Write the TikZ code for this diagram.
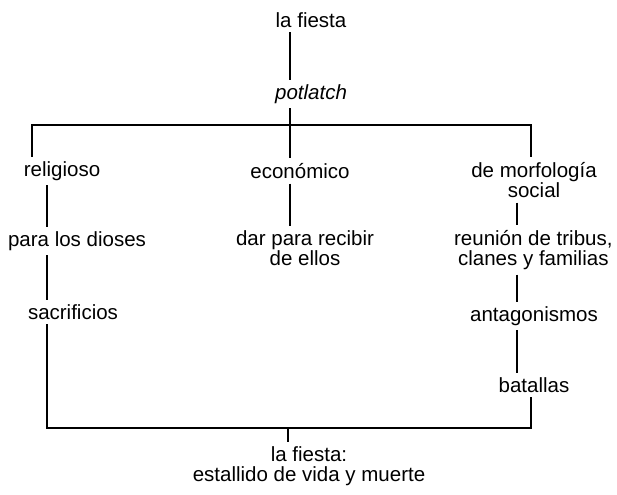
\documentclass[tikz,border=0pt]{standalone}
\usepackage{fontspec}
\setmainfont{Liberation Sans}
\usetikzlibrary{positioning, calc}

\begin{document}
\begin{tikzpicture}[
  font=\fontsize{17.5}{17}\selectfont,
  term/.style={align=center, inner sep=4pt},
  link/.style={draw=black, line width=0.9pt},
]
\useasboundingbox (0,0) rectangle (18.51,-14.85);
% ----- top -----
\node[term] (top) at (9.33,-0.60) {la fiesta};
\node[term] (pot) at (9.33,-2.82) {\itshape potlatch};
\coordinate (mid) at (8.70,-3.75);
\coordinate (tl)  at (0.96,-3.75);
\coordinate (tr)  at (15.93,-3.75);
\draw[link] (top.south -| mid) -- (pot.north -| mid);
\draw[link] (pot.south -| mid) -- (mid);
% ----- three branches -----
\node[term] (rel)  at (1.86,-5.13)  {religioso};
\node[term] (eco)  at (9.00,-5.13)  {económico};
\node[term] (morf) at (16.02,-5.40) {de morfología\\social};
\draw[link] (tl |- rel.north) -- (tl) -- (tr) -- (tr |- morf.north);
\draw[link] (mid) -- (mid |- eco.north);
% ----- left column -----
\coordinate (colL) at (1.41,-6);
\node[term] (dioses) at (2.31,-7.23) {para los dioses};
\node[term] (sacr)   at (2.19,-9.36) {sacrificios};
\draw[link] (rel.south -| colL) -- (dioses.north -| colL);
\draw[link] (dioses.south -| colL) -- (sacr.north -| colL);
% ----- middle column -----
\node[term] (dar) at (9.15,-7.44) {dar para recibir\\de ellos};
\draw[link] (eco.south -| mid) -- (dar.north -| mid);
% ----- right column -----
\coordinate (colR) at (15.51,-6);
\node[term] (reun)  at (16.00,-7.50)  {reunión de tribus,\\clanes y familias};
\node[term] (antag) at (16.02,-9.48)  {antagonismos};
\node[term] (bat)   at (16.02,-11.55) {batallas};
\draw[link] (morf.south -| colR) -- (reun.north -| colR);
\draw[link] (reun.south -| colR) -- (antag.north -| colR);
\draw[link] (antag.south -| colR) -- (bat.north -| colR);
% ----- bottom -----
\coordinate (bl) at (1.41,-12.84);
\coordinate (br) at (15.93,-12.84);
\coordinate (bm) at (8.64,-12.84);
\node[term] (fin) at (9.27,-13.98) {la fiesta:\\estallido de vida y muerte};
\draw[link] (sacr.south -| bl) -- (bl) -- (br) -- (br |- bat.south);
\draw[link] (bm) -- (bm |- fin.north);
\end{tikzpicture}
\end{document}
